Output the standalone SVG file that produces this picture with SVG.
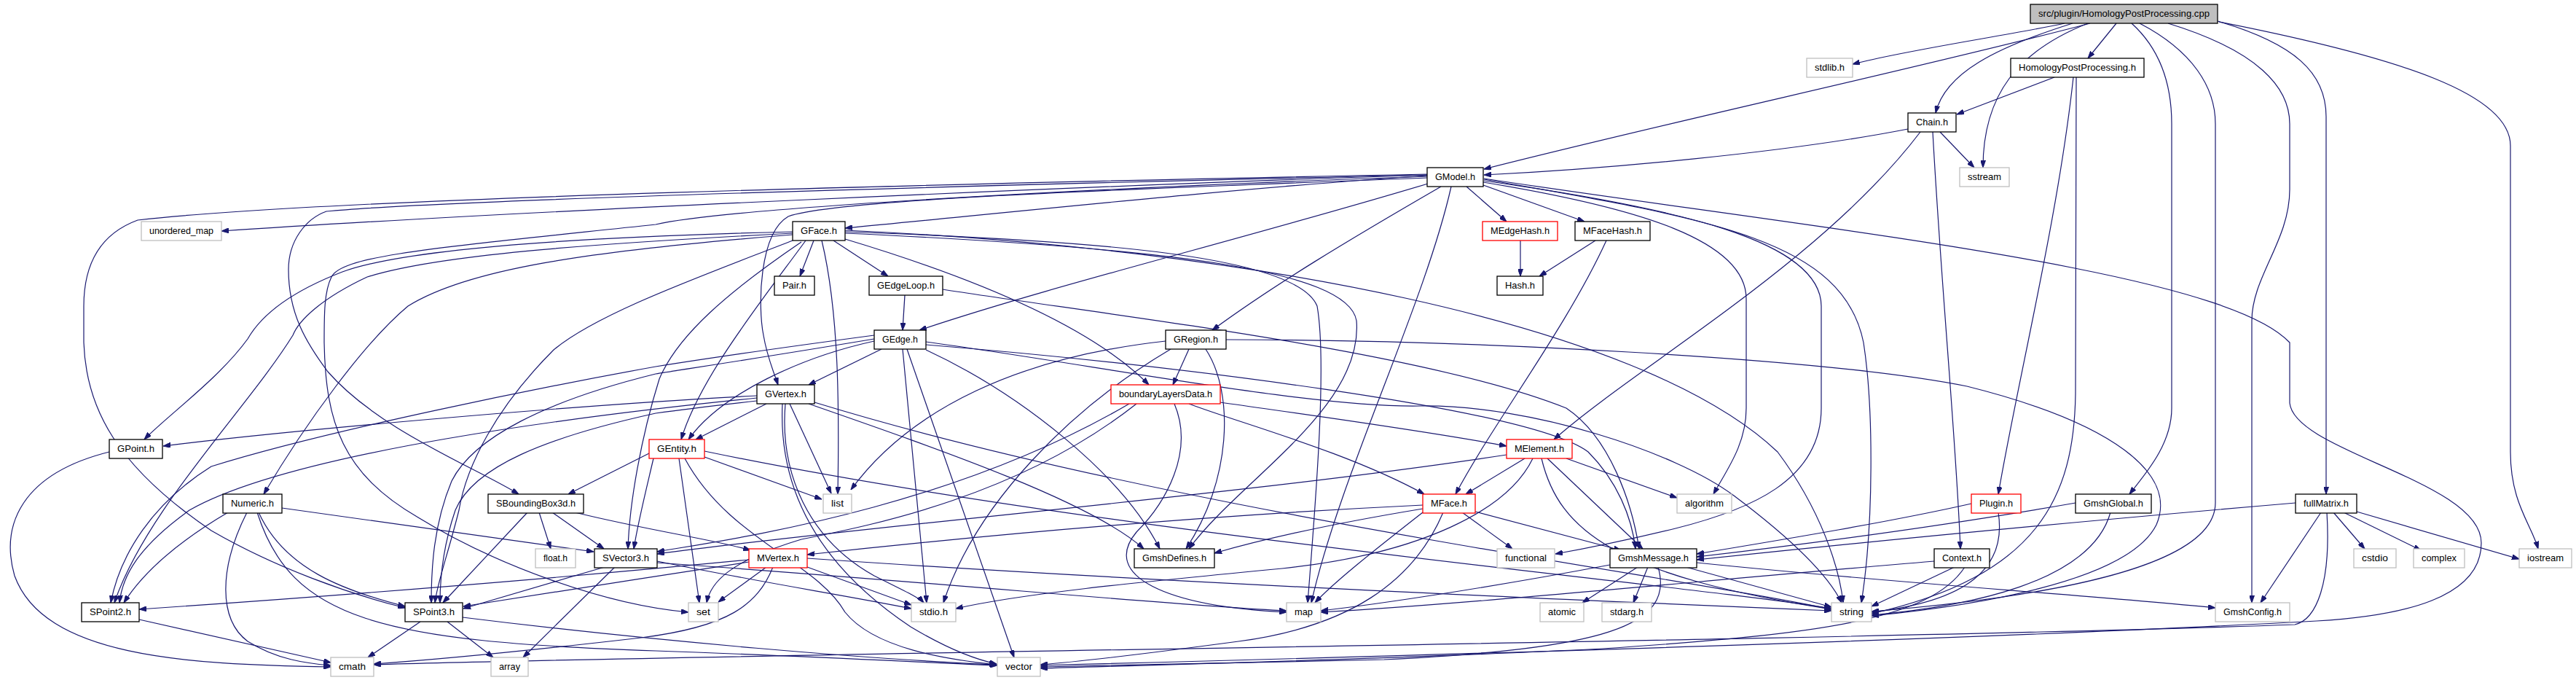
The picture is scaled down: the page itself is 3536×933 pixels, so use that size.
<svg xmlns="http://www.w3.org/2000/svg" width="3536" height="933" viewBox="0 0 3536 933">
<style>
rect{fill:#fff;stroke:#000;stroke-width:1.3}
.r rect{stroke:#ff0000}
.g rect{stroke:#bfbfbf}
.m rect{fill:#bfbfbf}
text{font-family:"Liberation Sans",Arial,sans-serif;font-size:13px;text-anchor:middle;fill:#000}
#edges path{fill:none;stroke:#191970;stroke-width:1.2;marker-end:url(#ah)}
</style>
<defs>
<marker id="ah" viewBox="0 0 10 7" refX="10" refY="3.5" markerWidth="10" markerHeight="7" markerUnits="userSpaceOnUse" orient="auto">
<path d="M0,0 L10,3.5 L0,7 z" fill="#191970" stroke="#191970"/>
</marker>
</defs>
<rect x="0" y="0" width="3536" height="933" style="fill:#fff;stroke:none"/>
<g id="edges">
<path d="M2834,32 C2760,48 2620,68 2543,88"/>
<path d="M2869,32 C2650,90 2300,165 2037,232"/>
<path d="M2845,32 C2740,65 2670,100 2657,155"/>
<path d="M2866,32 C2770,70 2722,130 2722,230"/>
<path d="M2905,32 L2866,80"/>
<path d="M2926,32 C2968,70 2981,120 2981,170 L2981,560 C2981,610 2945,650 2923,678"/>
<path d="M2937,32 C3010,70 3041,120 3041,170 L3041,690 C3041,780 2800,820 2569,839"/>
<path d="M2976,32 C3100,70 3143,120 3143,170 L3143,260 C3143,330 3091,380 3091,440 L3091,827"/>
<path d="M3044,29 C3150,60 3193,100 3193,160 L3193,678"/>
<path d="M3046,30 C3300,80 3446,130 3446,200 L3446,620 C3446,690 3475,720 3484,753"/>
<path d="M2820,106 L2686,157"/>
<path d="M2846,106 C2825,300 2770,520 2743,678"/>
<path d="M2850,106 L2849,540 C2847,680 2800,790 2569,842"/>
<path d="M2619,177 C2450,210 2200,232 2037,240"/>
<path d="M2663,181 L2710,230"/>
<path d="M2653,181 C2665,400 2685,600 2691,753"/>
<path d="M2636,181 C2500,360 2250,500 2133,603"/>
<path d="M2013,256 L2068,304"/>
<path d="M2036,254 L2175,304"/>
<path d="M1960,252 C1700,330 1450,390 1262,453"/>
<path d="M1978,256 C1850,330 1750,390 1664,453"/>
<path d="M1992,256 C1955,420 1840,650 1800,827"/>
<path d="M2036,250 C2250,285 2397,330 2397,410 L2397,560 C2397,610 2370,645 2352,678"/>
<path d="M2037,248 C2300,285 2500,330 2500,420 L2500,560 C2500,660 2400,700 2300,725 C2230,742 2180,752 2135,760"/>
<path d="M2037,246 C2350,300 2530,330 2558,470 C2572,560 2572,720 2555,827"/>
<path d="M2037,245 C2500,315 3050,370 3143,470 L3143,553 C3150,620 3406,660 3406,745 C3406,820 3300,845 3180,852 C2700,878 2000,898 1428,913"/>
<path d="M1959,241 C1700,258 1400,290 1160,313"/>
<path d="M1959,244 C1600,258 1150,272 1082,297 C1042,320 1040,420 1048,460 C1053,490 1062,510 1068,528"/>
<path d="M1959,240 C1500,255 700,290 304,317"/>
<path d="M1959,239 C1300,252 450,272 189,302 C140,320 115,360 115,420 L115,470 C118,560 160,640 290,728 C380,780 480,815 556,834"/>
<path d="M1959,240 C1300,255 600,275 448,290 C420,300 396,330 396,370 C396,430 420,470 450,510 C520,590 650,640 712,678"/>
<path d="M1959,242 C1500,258 1000,285 900,308 C600,340 470,350 455,380 C445,400 445,430 445,470 C447,580 470,650 574,710 C680,775 830,830 945,840"/>
<path d="M1117,330 L1098,379"/>
<path d="M1144,330 L1219,379"/>
<path d="M1160,328 C1350,385 1500,450 1577,528"/>
<path d="M1106,330 C1040,420 960,520 935,603"/>
<path d="M1128,330 C1152,430 1152,560 1150,678"/>
<path d="M1100,332 C1000,400 930,460 905,520 C880,600 864,690 862,753"/>
<path d="M1088,318 C800,325 560,340 470,373 C400,400 360,430 340,465 C300,520 230,570 198,603"/>
<path d="M1088,320 C800,335 600,350 504,380 C440,410 410,440 402,460 C340,560 200,700 157,827"/>
<path d="M1088,322 C800,345 640,370 560,420 C500,470 420,580 362,678"/>
<path d="M1088,330 C960,380 820,430 760,480 C680,560 640,640 630,700 C615,760 600,800 597,827"/>
<path d="M1160,318 C1500,330 1780,350 1808,420 C1822,500 1805,700 1795,827"/>
<path d="M1160,320 C1600,340 1850,370 1862,440 C1872,560 1700,660 1632,753"/>
<path d="M1160,316 C1700,340 2250,440 2440,620 C2500,700 2525,780 2530,827"/>
<path d="M1242,405 L1239,453"/>
<path d="M1294,397 C1500,430 1950,480 2150,560 C2210,600 2240,690 2250,753"/>
<path d="M1210,479 L1110,528"/>
<path d="M1200,468 C1100,490 990,540 945,603"/>
<path d="M1239,479 L1272,827"/>
<path d="M1245,479 L1392,902"/>
<path d="M1271,480 C1400,540 1540,650 1592,753"/>
<path d="M1200,460 C1050,480 950,495 900,503 C750,530 450,590 290,640 C210,690 165,760 152,827"/>
<path d="M1200,465 C1050,490 950,505 900,513 C750,550 650,600 620,660 C595,720 592,780 592,827"/>
<path d="M1271,473 C1600,500 2100,560 2180,620 C2220,660 2240,710 2245,753"/>
<path d="M1271,469 C1500,500 1800,560 1950,557 C2100,555 2300,620 2380,680 C2460,740 2510,790 2528,827"/>
<path d="M1632,479 L1610,528"/>
<path d="M1655,479 C1695,540 1690,660 1628,753"/>
<path d="M1600,468 C1400,490 1250,560 1168,672"/>
<path d="M1607,479 C1470,560 1340,690 1295,827"/>
<path d="M1683,466 C2000,466 2500,490 2700,530 C2900,580 2990,650 2960,720 C2920,800 2700,832 2569,845"/>
<path d="M1052,554 L955,603"/>
<path d="M1084,554 L1141,677"/>
<path d="M1078,554 C1070,650 1110,740 1200,790 C1240,810 1262,820 1268,827"/>
<path d="M1074,554 C1068,680 1130,780 1250,860 C1300,890 1340,905 1368,911"/>
<path d="M1110,554 C1300,620 1500,690 1570,753"/>
<path d="M1118,552 C1600,700 2300,790 2514,836"/>
<path d="M1039,543 C800,555 400,590 224,612"/>
<path d="M1039,546 C800,570 400,620 260,700 C190,750 168,790 164,827"/>
<path d="M1039,550 C950,560 900,567 900,567 C750,600 650,640 625,700 C608,750 604,790 604,827"/>
<path d="M967,627 L1128,685"/>
<path d="M932,629 L960,827"/>
<path d="M940,629 C1000,740 1120,770 1160,840 C1200,890 1300,905 1368,912"/>
<path d="M967,619 C1500,730 2300,800 2514,835"/>
<path d="M891,622 L780,678"/>
<path d="M897,629 C885,680 875,720 870,753"/>
<path d="M740,703 L756,753"/>
<path d="M758,703 L829,753"/>
<path d="M724,703 L608,827"/>
<path d="M789,703 C900,730 980,740 1030,755"/>
<path d="M387,697 C550,720 700,740 815,757"/>
<path d="M313,703 C250,740 200,780 170,827"/>
<path d="M339,703 C300,780 300,850 340,880 C380,905 420,910 454,913"/>
<path d="M355,703 C390,780 470,810 556,832"/>
<path d="M353,703 C400,850 520,880 900,893 C1100,900 1250,908 1369,913"/>
<path d="M830,778 L636,835"/>
<path d="M844,778 L718,902"/>
<path d="M902,770 C1050,800 1150,815 1251,835"/>
<path d="M902,772 C1300,800 1600,830 1766,838"/>
<path d="M577,853 L505,902"/>
<path d="M614,853 L677,902"/>
<path d="M635,847 C900,880 1200,905 1369,912"/>
<path d="M191,850 L454,909"/>
<path d="M150,620 C30,650 0,720 20,790 C60,900 250,912 454,915"/>
<path d="M1052,778 L986,826"/>
<path d="M1108,778 L1251,830"/>
<path d="M1061,778 C1040,830 1000,860 880,875 C750,890 600,905 513,911"/>
<path d="M1028,771 C900,790 750,815 636,832"/>
<path d="M1028,768 C800,790 500,815 191,836"/>
<path d="M1108,766 C1600,800 2200,825 2514,838"/>
<path d="M2093,629 L2012,678"/>
<path d="M2150,629 L2302,683"/>
<path d="M2124,629 L2255,753"/>
<path d="M2116,629 C2140,730 2220,790 2514,836"/>
<path d="M2068,624 C1700,680 1200,720 902,760"/>
<path d="M2104,629 C2070,700 1950,760 1760,780 C1550,800 1400,815 1312,835"/>
<path d="M2007,703 L2076,753"/>
<path d="M2025,702 L2225,755"/>
<path d="M1981,703 C1940,800 1850,860 1700,880 C1550,900 1480,908 1428,912"/>
<path d="M1953,693 C1600,710 1300,740 1108,761"/>
<path d="M1953,698 C1850,715 1750,735 1667,759"/>
<path d="M1953,703 C1880,760 1830,800 1805,827"/>
<path d="M1675,552 C1800,570 1950,590 2068,612"/>
<path d="M1632,554 C1700,580 1850,620 1955,678"/>
<path d="M1560,554 C1400,680 1200,720 1100,740 C1000,770 975,800 970,827"/>
<path d="M1550,554 C1300,700 1000,740 902,757"/>
<path d="M1612,554 C1640,620 1600,690 1560,730 C1510,790 1600,832 1766,840"/>
<path d="M2087,330 L2087,379"/>
<path d="M2190,330 L2113,379"/>
<path d="M2205,330 C2150,450 2050,580 1998,678"/>
<path d="M2248,778 L2172,827"/>
<path d="M2262,778 L2242,827"/>
<path d="M2314,778 L2514,833"/>
<path d="M2329,772 C2600,800 2850,815 3041,834"/>
<path d="M2210,775 C2050,805 1900,828 1813,838"/>
<path d="M2276,778 C2300,860 2200,890 1900,905 C1700,910 1550,913 1428,915"/>
<path d="M2683,778 L2569,832"/>
<path d="M2697,778 C2650,850 2500,870 2200,890 C1900,905 1600,912 1428,917"/>
<path d="M2655,770 C2300,800 2000,830 1813,840"/>
<path d="M2706,691 C2600,715 2450,740 2329,760"/>
<path d="M2743,703 C2755,780 2700,825 2569,840"/>
<path d="M2849,690 C2650,725 2450,750 2329,764"/>
<path d="M2897,703 C2870,800 2700,832 2569,844"/>
<path d="M3151,690 C2800,720 2500,750 2329,768"/>
<path d="M3186,703 L3103,827"/>
<path d="M3203,703 L3246,753"/>
<path d="M3217,703 L3323,755"/>
<path d="M3235,702 L3458,767"/>
<path d="M3194,703 C3200,800 3180,850 3150,857 C2500,880 1000,897 513,912"/>
</g>
<g id="n_main" class="m"><rect x="2787" y="6" width="257" height="26"/><text x="2915.5" y="23" textLength="235" lengthAdjust="spacingAndGlyphs">src/plugin/HomologyPostProcessing.cpp</text></g>
<g id="n_stdlib" class="g"><rect x="2480" y="80" width="63" height="26"/><text x="2511.5" y="97" textLength="41" lengthAdjust="spacingAndGlyphs">stdlib.h</text></g>
<g id="n_hpp"><rect x="2760" y="80" width="183" height="26"/><text x="2851.5" y="97" textLength="161" lengthAdjust="spacingAndGlyphs">HomologyPostProcessing.h</text></g>
<g id="n_chain"><rect x="2619" y="155" width="66" height="26"/><text x="2652" y="172" textLength="44" lengthAdjust="spacingAndGlyphs">Chain.h</text></g>
<g id="n_gmodel"><rect x="1959" y="230" width="77" height="26"/><text x="1997.5" y="247" textLength="55" lengthAdjust="spacingAndGlyphs">GModel.h</text></g>
<g id="n_sstream" class="g"><rect x="2690" y="230" width="68" height="26"/><text x="2724" y="247" textLength="46" lengthAdjust="spacingAndGlyphs">sstream</text></g>
<g id="n_umap" class="g"><rect x="194" y="304" width="110" height="26"/><text x="249" y="321" textLength="88" lengthAdjust="spacingAndGlyphs">unordered_map</text></g>
<g id="n_gface"><rect x="1088" y="304" width="72" height="26"/><text x="1124" y="321" textLength="50" lengthAdjust="spacingAndGlyphs">GFace.h</text></g>
<g id="n_medgehash" class="r"><rect x="2035" y="304" width="103" height="26"/><text x="2086.5" y="321" textLength="81" lengthAdjust="spacingAndGlyphs">MEdgeHash.h</text></g>
<g id="n_mfacehash"><rect x="2162" y="304" width="103" height="26"/><text x="2213.5" y="321" textLength="81" lengthAdjust="spacingAndGlyphs">MFaceHash.h</text></g>
<g id="n_pair"><rect x="1063" y="379" width="55" height="26"/><text x="1090.5" y="396" textLength="33" lengthAdjust="spacingAndGlyphs">Pair.h</text></g>
<g id="n_gedgeloop"><rect x="1193" y="379" width="101" height="26"/><text x="1243.5" y="396" textLength="79" lengthAdjust="spacingAndGlyphs">GEdgeLoop.h</text></g>
<g id="n_hash"><rect x="2055" y="379" width="63" height="26"/><text x="2086.5" y="396" textLength="41" lengthAdjust="spacingAndGlyphs">Hash.h</text></g>
<g id="n_gedge"><rect x="1200" y="453" width="71" height="26"/><text x="1235.5" y="470" textLength="49" lengthAdjust="spacingAndGlyphs">GEdge.h</text></g>
<g id="n_gregion"><rect x="1600" y="453" width="83" height="26"/><text x="1641.5" y="470" textLength="61" lengthAdjust="spacingAndGlyphs">GRegion.h</text></g>
<g id="n_gvertex"><rect x="1039" y="528" width="79" height="26"/><text x="1078.5" y="545" textLength="57" lengthAdjust="spacingAndGlyphs">GVertex.h</text></g>
<g id="n_bld" class="r"><rect x="1525" y="528" width="150" height="26"/><text x="1600" y="545" textLength="128" lengthAdjust="spacingAndGlyphs">boundaryLayersData.h</text></g>
<g id="n_gpoint"><rect x="150" y="603" width="73" height="26"/><text x="186.5" y="620" textLength="51" lengthAdjust="spacingAndGlyphs">GPoint.h</text></g>
<g id="n_gentity" class="r"><rect x="891" y="603" width="76" height="26"/><text x="929" y="620" textLength="54" lengthAdjust="spacingAndGlyphs">GEntity.h</text></g>
<g id="n_melement" class="r"><rect x="2068" y="603" width="90" height="26"/><text x="2113" y="620" textLength="68" lengthAdjust="spacingAndGlyphs">MElement.h</text></g>
<g id="n_numeric"><rect x="306" y="678" width="81" height="26"/><text x="346.5" y="695" textLength="59" lengthAdjust="spacingAndGlyphs">Numeric.h</text></g>
<g id="n_sbb"><rect x="670" y="678" width="131" height="26"/><text x="735.5" y="695" textLength="109" lengthAdjust="spacingAndGlyphs">SBoundingBox3d.h</text></g>
<g id="n_list" class="g"><rect x="1130" y="678" width="39" height="26"/><text x="1149.5" y="695" textLength="17" lengthAdjust="spacingAndGlyphs">list</text></g>
<g id="n_mface" class="r"><rect x="1953" y="678" width="72" height="26"/><text x="1989" y="695" textLength="50" lengthAdjust="spacingAndGlyphs">MFace.h</text></g>
<g id="n_algorithm" class="g"><rect x="2302" y="678" width="75" height="26"/><text x="2339.5" y="695" textLength="53" lengthAdjust="spacingAndGlyphs">algorithm</text></g>
<g id="n_plugin" class="r"><rect x="2706" y="678" width="68" height="26"/><text x="2740" y="695" textLength="46" lengthAdjust="spacingAndGlyphs">Plugin.h</text></g>
<g id="n_gmshglobal"><rect x="2849" y="678" width="104" height="26"/><text x="2901" y="695" textLength="82" lengthAdjust="spacingAndGlyphs">GmshGlobal.h</text></g>
<g id="n_fullmatrix"><rect x="3151" y="678" width="84" height="26"/><text x="3193" y="695" textLength="62" lengthAdjust="spacingAndGlyphs">fullMatrix.h</text></g>
<g id="n_float" class="g"><rect x="735" y="753" width="55" height="26"/><text x="762.5" y="770" textLength="33" lengthAdjust="spacingAndGlyphs">float.h</text></g>
<g id="n_svector3"><rect x="816" y="753" width="86" height="26"/><text x="859" y="770" textLength="64" lengthAdjust="spacingAndGlyphs">SVector3.h</text></g>
<g id="n_mvertex" class="r"><rect x="1028" y="753" width="80" height="26"/><text x="1068" y="770" textLength="58" lengthAdjust="spacingAndGlyphs">MVertex.h</text></g>
<g id="n_gmshdefines"><rect x="1557" y="753" width="110" height="26"/><text x="1612" y="770" textLength="88" lengthAdjust="spacingAndGlyphs">GmshDefines.h</text></g>
<g id="n_functional" class="g"><rect x="2055" y="753" width="79" height="26"/><text x="2094.5" y="770" textLength="57" lengthAdjust="spacingAndGlyphs">functional</text></g>
<g id="n_gmshmessage"><rect x="2210" y="753" width="119" height="26"/><text x="2269.5" y="770" textLength="97" lengthAdjust="spacingAndGlyphs">GmshMessage.h</text></g>
<g id="n_context"><rect x="2655" y="753" width="76" height="26"/><text x="2693" y="770" textLength="54" lengthAdjust="spacingAndGlyphs">Context.h</text></g>
<g id="n_cstdio" class="g"><rect x="3231" y="753" width="58" height="26"/><text x="3260" y="770" textLength="36" lengthAdjust="spacingAndGlyphs">cstdio</text></g>
<g id="n_complex" class="g"><rect x="3313" y="753" width="70" height="26"/><text x="3348" y="770" textLength="48" lengthAdjust="spacingAndGlyphs">complex</text></g>
<g id="n_iostream" class="g"><rect x="3458" y="753" width="72" height="26"/><text x="3494" y="770" textLength="50" lengthAdjust="spacingAndGlyphs">iostream</text></g>
<g id="n_spoint2"><rect x="112" y="827" width="79" height="26"/><text x="151.5" y="844" textLength="57" lengthAdjust="spacingAndGlyphs">SPoint2.h</text></g>
<g id="n_spoint3"><rect x="556" y="827" width="79" height="26"/><text x="595.5" y="844" textLength="57" lengthAdjust="spacingAndGlyphs">SPoint3.h</text></g>
<g id="n_set" class="g"><rect x="945" y="827" width="41" height="26"/><text x="965.5" y="844" textLength="19" lengthAdjust="spacingAndGlyphs">set</text></g>
<g id="n_stdio" class="g"><rect x="1251" y="827" width="61" height="26"/><text x="1281.5" y="844" textLength="39" lengthAdjust="spacingAndGlyphs">stdio.h</text></g>
<g id="n_map" class="g"><rect x="1766" y="827" width="47" height="26"/><text x="1789.5" y="844" textLength="25" lengthAdjust="spacingAndGlyphs">map</text></g>
<g id="n_atomic" class="g"><rect x="2114" y="827" width="60" height="26"/><text x="2144" y="844" textLength="38" lengthAdjust="spacingAndGlyphs">atomic</text></g>
<g id="n_stdarg" class="g"><rect x="2199" y="827" width="68" height="26"/><text x="2233" y="844" textLength="46" lengthAdjust="spacingAndGlyphs">stdarg.h</text></g>
<g id="n_string" class="g"><rect x="2514" y="827" width="55" height="26"/><text x="2541.5" y="844" textLength="33" lengthAdjust="spacingAndGlyphs">string</text></g>
<g id="n_gmshconfig" class="g"><rect x="3041" y="827" width="102" height="26"/><text x="3092" y="844" textLength="80" lengthAdjust="spacingAndGlyphs">GmshConfig.h</text></g>
<g id="n_cmath" class="g"><rect x="454" y="902" width="59" height="26"/><text x="483.5" y="919" textLength="37" lengthAdjust="spacingAndGlyphs">cmath</text></g>
<g id="n_array" class="g"><rect x="674" y="902" width="51" height="26"/><text x="699.5" y="919" textLength="29" lengthAdjust="spacingAndGlyphs">array</text></g>
<g id="n_vector" class="g"><rect x="1369" y="902" width="59" height="26"/><text x="1398.5" y="919" textLength="37" lengthAdjust="spacingAndGlyphs">vector</text></g>
</svg>
